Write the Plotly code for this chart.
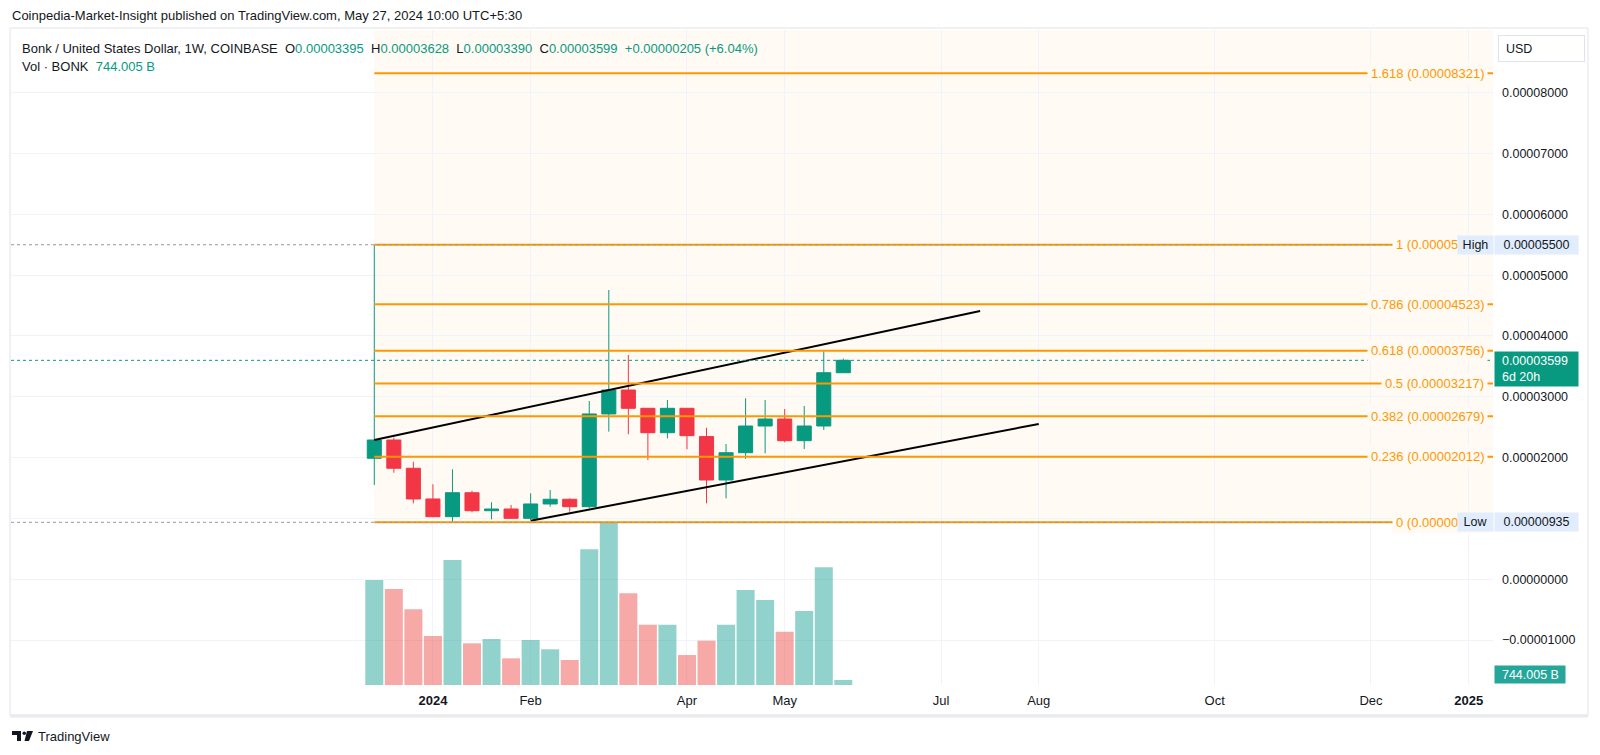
import plotly.graph_objects as go

# ---- data (BONK/USD weekly, Coinbase) ----
weeks = [
    "2023-12-11", "2023-12-18", "2023-12-25", "2024-01-01", "2024-01-08",
    "2024-01-15", "2024-01-22", "2024-01-29", "2024-02-05", "2024-02-12",
    "2024-02-19", "2024-02-26", "2024-03-04", "2024-03-11", "2024-03-18",
    "2024-03-25", "2024-04-01", "2024-04-08", "2024-04-15", "2024-04-22",
    "2024-04-29", "2024-05-06", "2024-05-13", "2024-05-20", "2024-05-27",
]
opens = [
    1.988e-5, 2.289e-5, 1.824e-5, 1.319e-5, 1.028e-5,
    1.422e-5, 1.126e-5, 1.154e-5, 1.001e-5, 1.237e-5,
    1.314e-5, 1.192e-5, 2.717e-5, 3.111e-5, 2.810e-5,
    2.409e-5, 2.810e-5, 2.345e-5, 1.631e-5, 2.080e-5,
    2.519e-5, 2.634e-5, 2.278e-5, 2.519e-5, 3.395e-5,
]
highs = [
    5.500e-5, 2.327e-5, 1.932e-5, 1.561e-5, 1.807e-5,
    1.455e-5, 1.265e-5, 1.220e-5, 1.412e-5, 1.467e-5,
    1.330e-5, 2.930e-5, 4.756e-5, 3.687e-5, 2.815e-5,
    2.947e-5, 2.815e-5, 2.491e-5, 2.223e-5, 2.975e-5,
    2.947e-5, 2.799e-5, 2.848e-5, 3.748e-5, 3.628e-5,
]
lows = [
    1.549e-5, 1.751e-5, 1.248e-5, 1.018e-5, 0.935e-5,
    1.100e-5, 0.985e-5, 0.990e-5, 0.975e-5, 1.192e-5,
    1.110e-5, 1.170e-5, 2.426e-5, 2.383e-5, 1.960e-5,
    2.317e-5, 2.136e-5, 1.248e-5, 1.330e-5, 1.977e-5,
    2.070e-5, 2.251e-5, 2.141e-5, 2.454e-5, 3.390e-5,
]
closes = [
    2.289e-5, 1.824e-5, 1.319e-5, 1.028e-5, 1.422e-5,
    1.126e-5, 1.154e-5, 1.001e-5, 1.237e-5, 1.314e-5,
    1.192e-5, 2.717e-5, 3.111e-5, 2.810e-5, 2.409e-5,
    2.810e-5, 2.360e-5, 1.631e-5, 2.080e-5, 2.519e-5,
    2.634e-5, 2.278e-5, 2.519e-5, 3.395e-5, 3.599e-5,
]
volumes_b = [
    15620, 14280, 11260, 7290, 18600,
    6200, 6850, 3970, 6700, 5310,
    3720, 20190, 24210, 13650, 8970,
    8970, 4460, 6590, 8970, 14140,
    12650, 7930, 11010, 17510, 744.005,
]

fib_ratios = ["1.618", "1", "0.786", "0.618", "0.5", "0.382", "0.236", "0"]
fib_prices = [8.321e-5, 5.500e-5, 4.523e-5, 3.756e-5, 3.217e-5, 2.679e-5, 2.012e-5, 0.935e-5]

upper_x = ["2023-12-11", "2024-07-15"]
upper_y = [2.289e-5, 4.410e-5]
lower_x = ["2024-02-05", "2024-08-05"]
lower_y = [0.962e-5, 2.552e-5]

tick_dates = ["2024-01-01", "2024-02-05", "2024-04-01", "2024-05-06", "2024-07-01",
              "2024-08-05", "2024-10-07", "2024-12-02", "2025-01-06"]
tick_labels = ["<b>2024</b>", "Feb", "Apr", "May", "Jul", "Aug", "Oct", "Dec", "<b>2025</b>"]
price_ticks = [-1e-5, 0, 1e-5, 2e-5, 3e-5, 4e-5, 5e-5, 6e-5, 7e-5, 8e-5]

# ---- styling ----
UP, DOWN = "#089981", "#F23645"
VOL_UP, VOL_DOWN = "rgba(38,166,154,0.5)", "rgba(239,83,80,0.5)"
FIB = "#FF9800"
CREAM = "#fffaf3"
TEXT = "#131722"
GRID = "#f0f3fa"
FONT = "Liberation Sans, Arial, sans-serif"

W, H = 1600, 755
L, R, T, B = 11, 107, 30, 70
PW, PH = W - L - R, H - T - B
X_RANGE = ["2023-08-02 21:00", "2025-01-14 17:00"]
Y_RANGE = [-1.740e-5, 9.031e-5]
VOL_MAX = 97464


def px(x):
    return (x - L) / PW


def py(y):
    return (H - B - y) / PH


fig = go.Figure()

vol_colors = [VOL_UP if c >= o else VOL_DOWN for o, c in zip(opens, closes)]
fig.add_trace(go.Bar(
    x=weeks, y=volumes_b, yaxis="y2", width=[6.45 * 86400000] * len(weeks),
    marker=dict(color=vol_colors, line=dict(width=0)), hoverinfo="skip",
))
fig.add_trace(go.Candlestick(
    x=weeks, open=opens, high=highs, low=lows, close=closes,
    increasing=dict(line=dict(color=UP, width=1), fillcolor=UP),
    decreasing=dict(line=dict(color=DOWN, width=1), fillcolor=DOWN),
    whiskerwidth=0, hoverinfo="skip",
))
for xs, ys in ((upper_x, upper_y), (lower_x, lower_y)):
    fig.add_trace(go.Scatter(x=xs, y=ys, mode="lines", line=dict(color="#000000", width=2),
                             hoverinfo="skip"))

shapes = [
    dict(type="rect", xref="x", yref="y", x0=weeks[0], x1=X_RANGE[1],
         y0=fib_prices[-1], y1=Y_RANGE[1], fillcolor=CREAM, line=dict(width=0), layer="below"),
]
for p in fib_prices:
    shapes.append(dict(type="line", xref="x", yref="y", x0=weeks[0], x1=X_RANGE[1], y0=p, y1=p,
                       line=dict(color=FIB, width=2), layer="above"))
for p, c in ((max(highs), "#9598a1"), (min(lows), "#9598a1"), (closes[-1], UP)):
    shapes.append(dict(type="line", xref="paper", yref="y", x0=0, x1=1, y0=p, y1=p,
                       line=dict(color=c, width=1, dash="dot"), layer="above"))
# chart frame
shapes.append(dict(type="rect", xref="paper", yref="paper", x0=px(10), x1=px(1588),
                   y0=py(715), y1=py(28), line=dict(color="#e0e3eb", width=1)))
shapes.append(dict(type="line", xref="paper", yref="paper", x0=px(10), x1=px(1588),
                   y0=py(716), y1=py(716), line=dict(color="#e9e9f0", width=3)))
# TradingView logo mark
shapes.append(dict(type="rect", xref="paper", yref="paper", x0=px(12), x1=px(21),
                   y0=py(735), y1=py(731), fillcolor=TEXT, line=dict(width=0)))
shapes.append(dict(type="rect", xref="paper", yref="paper", x0=px(17), x1=px(21),
                   y0=py(741), y1=py(731), fillcolor=TEXT, line=dict(width=0)))
shapes.append(dict(type="circle", xref="paper", yref="paper", x0=px(22.5), x1=px(26),
                   y0=py(735), y1=py(731.5), fillcolor=TEXT, line=dict(width=0)))
shapes.append(dict(type="path", xref="paper", yref="paper",
                   path=f"M {px(27)} {py(731)} L {px(33)} {py(731)} L {px(29)} {py(741)} L {px(24.5)} {py(741)} Z",
                   fillcolor=TEXT, line=dict(width=0)))

g = f"<span style='color:{UP}'>"
ann = [
    dict(x=px(10), y=py(15), xref="paper", yref="paper", xanchor="left", yanchor="middle",
         text="Coinpedia-Market-Insight published on TradingView.com, May 27, 2024 10:00 UTC+5:30",
         showarrow=False, font=dict(size=13, color=TEXT)),
    dict(x=px(20), y=py(49), xref="paper", yref="paper", xanchor="left", yanchor="middle",
         text=(f"Bonk / United States Dollar, 1W, COINBASE&nbsp;&nbsp;O{g}0.00003395</span>"
               f"&nbsp;&nbsp;H{g}0.00003628</span>&nbsp;&nbsp;L{g}0.00003390</span>"
               f"&nbsp;&nbsp;C{g}0.00003599</span>&nbsp;&nbsp;{g}+0.00000205 (+6.04%)</span>"),
         showarrow=False, font=dict(size=13, color=TEXT)),
    dict(x=px(20), y=py(66), xref="paper", yref="paper", xanchor="left", yanchor="middle",
         text=f"Vol · BONK&nbsp;&nbsp;{g}744.005 B</span>",
         showarrow=False, font=dict(size=13, color=TEXT)),
    dict(x=px(36), y=py(736), xref="paper", yref="paper", xanchor="left", yanchor="middle",
         text="TradingView", showarrow=False, font=dict(size=13, color=TEXT)),
]
for r, p in zip(fib_ratios, fib_prices):
    ann.append(dict(x=px(1488), y=p, xref="paper", yref="y", xanchor="right", yanchor="middle",
                    text=f"{r} ({p:.8f})", showarrow=False, bgcolor=CREAM, borderpad=3,
                    font=dict(size=13, color=FIB)))
for label, p in (("High", max(highs)), ("Low", min(lows))):
    ann.append(dict(x=px(1457), y=p, xref="paper", yref="y", xanchor="left", yanchor="middle",
                    text=label, showarrow=False, bgcolor="#e1ecfc", width=35, height=18,
                    borderpad=0, font=dict(size=12.5, color=TEXT)))
    ann.append(dict(x=px(1494), y=p, xref="paper", yref="y", xanchor="left", yanchor="middle",
                    text=f"{p:.8f}", showarrow=False, bgcolor="#e1ecfc", width=83, height=18,
                    borderpad=0, font=dict(size=12.5, color=TEXT)))
ann.append(dict(x=px(1494), y=closes[-1], xref="paper", yref="y", xanchor="left", yanchor="top",
                yshift=9, text=f"&nbsp;&nbsp;{closes[-1]:.8f}<br>&nbsp;&nbsp;6d 20h", align="left",
                showarrow=False, bgcolor=UP, width=83, height=34, borderpad=0,
                font=dict(size=12.5, color="#ffffff")))
ann.append(dict(x=px(1494), y=volumes_b[-1], xref="paper", yref="y2", xanchor="left",
                yanchor="middle", yshift=6, text="&nbsp;&nbsp;744.005 B", align="left",
                showarrow=False, bgcolor="#26a69a", width=70, height=17, borderpad=0,
                font=dict(size=12.5, color="#ffffff")))
ann.append(dict(x=px(1498), y=py(48.5), xref="paper", yref="paper", xanchor="left",
                yanchor="middle", text="&nbsp;&nbsp;USD", align="left", showarrow=False,
                bgcolor="#ffffff", bordercolor="#e0e3eb", borderwidth=1, width=85, height=25,
                borderpad=0, font=dict(size=12.5, color=TEXT)))

fig.update_layout(
    width=W, height=H,
    margin=dict(l=L, r=R, t=T, b=B),
    paper_bgcolor="#ffffff", plot_bgcolor="#ffffff",
    font=dict(family=FONT, color=TEXT, size=12.5),
    showlegend=False,
    boxgap=0.28, boxgroupgap=0,
    xaxis=dict(
        type="date", range=X_RANGE, rangeslider=dict(visible=False),
        tickmode="array", tickvals=tick_dates, ticktext=tick_labels,
        showgrid=True, gridcolor=GRID, gridwidth=1, showline=False, zeroline=False,
        ticks="", ticklabelstandoff=6, tickfont=dict(size=13, color=TEXT),
    ),
    yaxis=dict(
        range=Y_RANGE, side="right", tickmode="array", tickvals=price_ticks,
        tickformat=".8f", showgrid=True, gridcolor=GRID, gridwidth=1, zeroline=False,
        showline=False, ticks="", ticklabelstandoff=8, tickfont=dict(size=12.5, color=TEXT),
    ),
    yaxis2=dict(range=[0, VOL_MAX], overlaying="y", visible=False, showgrid=False),
    shapes=shapes,
    annotations=ann,
)

# page body has a default 8px margin; drop it so the figure sits at the window origin
fig.write_html("out.html", config={"displayModeBar": False},
               post_script="document.body.style.margin='0';")
